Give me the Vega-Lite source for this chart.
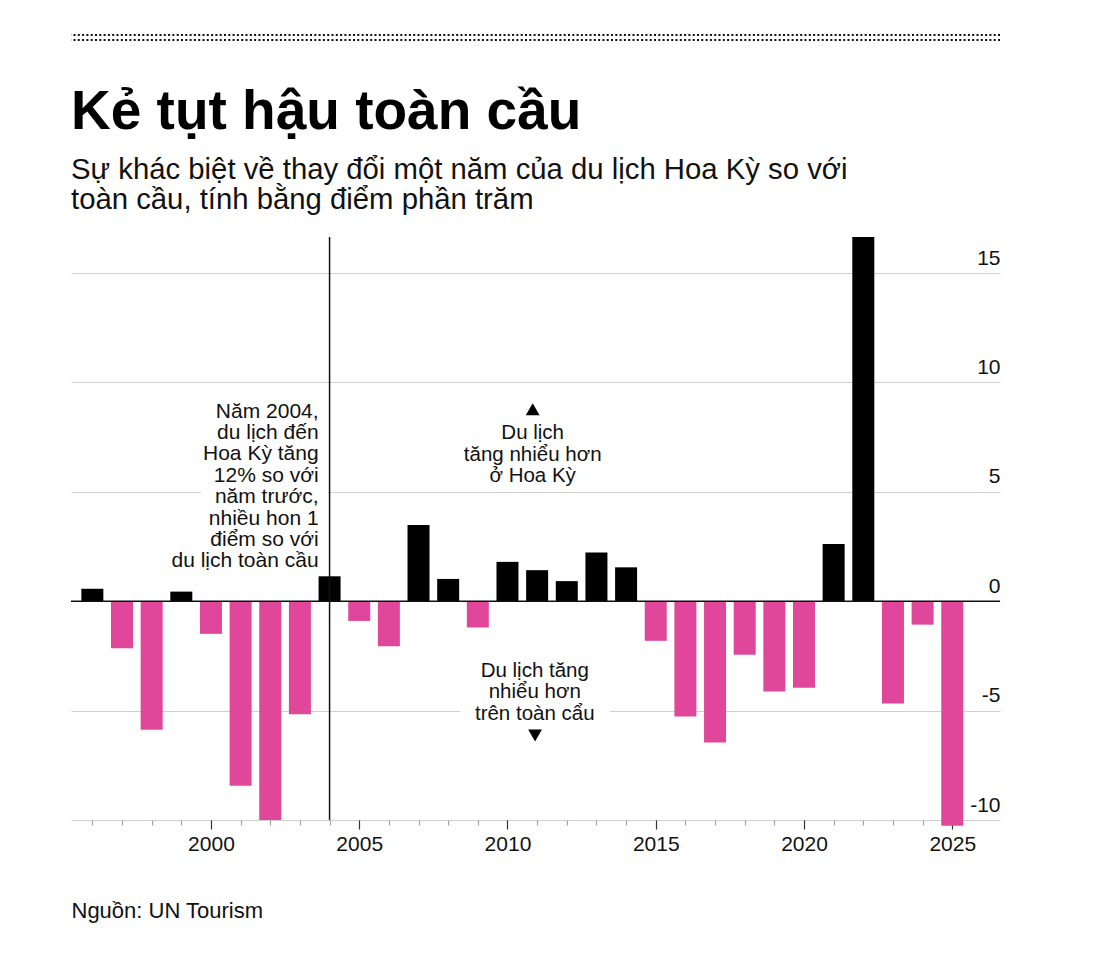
{
  "$schema": "https://vega.github.io/schema/vega-lite/v6.json",
  "padding": {"left": 69, "top": 33, "right": 20, "bottom": 20},
  "background": "white",
  "config": {"view": {"stroke": null}, "font": "Liberation Sans"},
  "spacing": 42,
  "datasets": {
    "bars": [
      {"year": 1996, "value": 0.57},
      {"year": 1997, "value": -2.15},
      {"year": 1998, "value": -5.87},
      {"year": 1999, "value": 0.44},
      {"year": 2000, "value": -1.49},
      {"year": 2001, "value": -8.44},
      {"year": 2002, "value": -10.0},
      {"year": 2003, "value": -5.17},
      {"year": 2004, "value": 1.14},
      {"year": 2005, "value": -0.9},
      {"year": 2006, "value": -2.06},
      {"year": 2007, "value": 3.48},
      {"year": 2008, "value": 1.02},
      {"year": 2009, "value": -1.2},
      {"year": 2010, "value": 1.8},
      {"year": 2011, "value": 1.42},
      {"year": 2012, "value": 0.92},
      {"year": 2013, "value": 2.23},
      {"year": 2014, "value": 1.55},
      {"year": 2015, "value": -1.81},
      {"year": 2016, "value": -5.27},
      {"year": 2017, "value": -6.46},
      {"year": 2018, "value": -2.45},
      {"year": 2019, "value": -4.13},
      {"year": 2020, "value": -3.95},
      {"year": 2021, "value": 2.62},
      {"year": 2022, "value": 16.65},
      {"year": 2023, "value": -4.68},
      {"year": 2024, "value": -1.07},
      {"year": 2025, "value": -10.26}
    ]
  },
  "vconcat": [
    {
      "width": 929,
      "height": 5,
      "data": {"values": [{"row": 0}, {"row": 1}]},
      "mark": {"type": "rule", "strokeDash": [2, 2.3], "strokeWidth": 2.2, "color": "#111111"},
      "encoding": {
        "y": {"field": "row", "type": "quantitative", "scale": {"domain": [0, 1]}, "axis": null}
      }
    },
    {
      "width": 929,
      "height": 583,
      "title": {
        "text": "Kẻ tụt hậu toàn cầu",
        "subtitle": ["Sự khác biệt về thay đổi một năm của du lịch Hoa Kỳ so với", "toàn cầu, tính bằng điểm phần trăm"],
        "anchor": "start",
        "frame": "group",
        "font": "Liberation Sans",
        "fontSize": 55,
        "fontWeight": "bold",
        "color": "#000000",
        "subtitleFont": "Liberation Sans",
        "subtitleFontSize": 29.3,
        "subtitleColor": "#111111",
        "subtitleLineHeight": 30,
        "subtitlePadding": 15,
        "offset": 20
      },
      "encoding": {
        "x": {
          "field": "year",
          "type": "quantitative",
          "scale": {"domain": [1995.28, 2026.61], "nice": false, "zero": false, "padding": 0},
          "axis": {
            "values": [1996, 1997, 1998, 1999, 2000, 2001, 2002, 2003, 2004, 2005, 2006, 2007, 2008, 2009, 2010, 2011, 2012, 2013, 2014, 2015, 2016, 2017, 2018, 2019, 2020, 2021, 2022, 2023, 2024, 2025],
            "format": "d",
            "labelExpr": "datum.value % 5 === 0 ? datum.label : ''",
            "grid": false,
            "domain": false,
            "ticks": true,
            "tickSize": {"condition": {"test": "datum.value % 5 === 0", "value": 9}, "value": 5},
            "tickColor": {"condition": {"test": "datum.value % 5 === 0", "value": "#333333"}, "value": "#a0a0a0"},
            "tickWidth": 1.2,
            "labelFont": "Liberation Sans",
            "labelFontSize": 21,
            "labelColor": "#111111",
            "labelPadding": 4,
            "labelFlush": false,
            "labelOverlap": false,
            "labelBound": false,
            "title": "Nguồn: UN Tourism",
            "titleAnchor": "start",
            "titleFont": "Liberation Sans",
            "titleFontSize": 22,
            "titleFontWeight": "normal",
            "titleColor": "#111111",
            "titlePadding": 46
          }
        },
        "y": {
          "field": "value",
          "type": "quantitative",
          "scale": {"domain": [-10, 16.65], "nice": false, "zero": false, "padding": 0},
          "axis": {
            "orient": "right",
            "values": [-10, -5, 0, 5, 10, 15],
            "labelExpr": "'' + datum.value",
            "grid": true,
            "gridColor": "#cfcfcf",
            "gridWidth": 1,
            "domain": false,
            "ticks": false,
            "labelAlign": "right",
            "labelBaseline": "alphabetic",
            "labelPadding": 0,
            "labelOffset": -9,
            "labelFont": "Liberation Sans",
            "labelFontSize": 21,
            "labelColor": "#111111",
            "labelOverlap": false,
            "title": null
          }
        }
      },
      "layer": [
        {
          "data": {"name": "bars"},
          "mark": {"type": "bar", "size": 22},
          "encoding": {
            "color": {"condition": {"test": "datum.value > 0", "value": "#000000"}, "value": "#e0479b"}
          }
        },
        {
          "data": {"values": [
            {"year": 1999.66, "year2": 2003.95, "value": 4.87, "value2": 5.13},
            {"year": 2008.4, "year2": 2013.46, "value": -4.87, "value2": -5.13}
          ]},
          "mark": {"type": "rect", "color": "white"},
          "encoding": {
            "x2": {"field": "year2"},
            "y2": {"field": "value2"}
          }
        },
        {
          "data": {"values": [{"year": 2004, "value": -10, "value2": 16.65}]},
          "mark": {"type": "rule", "color": "#111111", "strokeWidth": 1.5},
          "encoding": {
            "y2": {"field": "value2"}
          }
        },
        {
          "data": {"values": [{"year": 1995.28, "year2": 2026.61, "value": 0}]},
          "mark": {"type": "rule", "color": "#111111", "strokeWidth": 1.5},
          "encoding": {
            "x2": {"field": "year2"}
          }
        },
        {
          "data": {"values": [
            {"year": 2003.63, "value": 8.39, "label": "Năm 2004,\ndu lịch đến\nHoa Kỳ tăng\n12% so với\nnăm trước,\nnhiều hon 1\nđiểm so với\ndu lịch toàn cầu"}
          ]},
          "mark": {"type": "text", "align": "right", "baseline": "alphabetic", "font": "Liberation Sans", "fontSize": 21, "lineHeight": 21.4, "lineBreak": "\n", "color": "#111111"},
          "encoding": {
            "text": {"field": "label"}
          }
        },
        {
          "data": {"values": [
            {"year": 2010.85, "value": 7.4, "label": "Du lịch\ntăng nhiểu hơn\nở Hoa Kỳ"},
            {"year": 2010.92, "value": -3.45, "label": "Du lịch tăng\nnhiểu hơn\ntrên toàn cẩu"}
          ]},
          "mark": {"type": "text", "align": "center", "baseline": "alphabetic", "font": "Liberation Sans", "fontSize": 20.5, "lineHeight": 21.4, "lineBreak": "\n", "color": "#111111"},
          "encoding": {
            "text": {"field": "label"}
          }
        },
        {
          "data": {"values": [{"year": 2010.85, "value": 8.78}]},
          "mark": {"type": "point", "shape": "triangle-up", "filled": true, "size": 190, "color": "#000000", "opacity": 1}
        },
        {
          "data": {"values": [{"year": 2010.93, "value": -6.14}]},
          "mark": {"type": "point", "shape": "triangle-down", "filled": true, "size": 190, "color": "#000000", "opacity": 1}
        }
      ]
    }
  ]
}
